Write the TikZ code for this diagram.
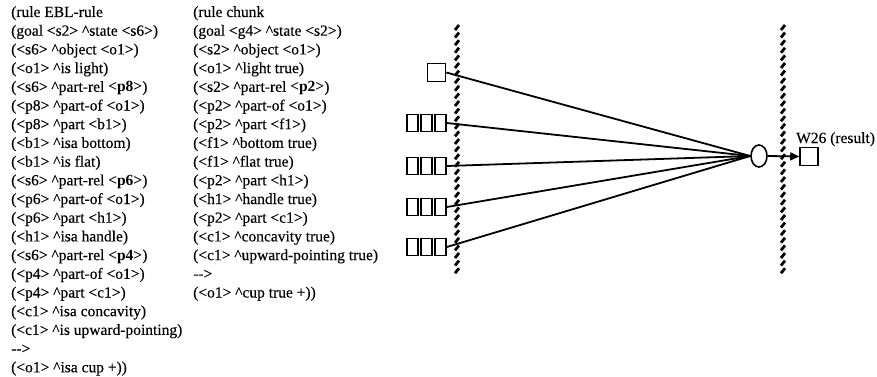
\documentclass[tikz,border=0pt]{standalone}
\usepackage{fontspec}
\setmainfont{Liberation Serif}[UprightFeatures={FakeBold=0.25}]
\usetikzlibrary{arrows.meta,shapes.geometric}
\newcommand\crt{\textasciicircum}
\begin{document}
\begin{tikzpicture}[x=1pt,y=-1pt,
  txt/.style={anchor=base west, inner sep=0pt, font=\fontsize{15.5}{18.7}\selectfont},
  cell/.style={draw, line width=1.6pt, minimum width=11pt, minimum height=17pt, inner sep=0pt},
  sq/.style={draw, line width=1.6pt, minimum size=18pt, inner sep=0pt},
  link/.style={line width=1.8pt},
  hatch/.style={line width=2.8pt}]
\useasboundingbox (0,0) rectangle (877,377);
% left column
\foreach \t [count=\i] in {
  {(rule EBL-rule},
  {(goal <s2> \crt state <s6>)},
  {(<s6> \crt object <o1>)},
  {(<o1> \crt is light)},
  {(<s6> \crt part-rel \textbf{<p8>})},
  {(<p8> \crt part-of <o1>)},
  {(<p8> \crt part <b1>)},
  {(<b1> \crt isa bottom)},
  {(<b1> \crt is flat)},
  {(<s6> \crt part-rel \textbf{<p6>})},
  {(<p6> \crt part-of <o1>)},
  {(<p6> \crt part <h1>)},
  {(<h1> \crt isa handle)},
  {(<s6> \crt part-rel \textbf{<p4>})},
  {(<p4> \crt part-of <o1>)},
  {(<p4> \crt part <c1>)},
  {(<c1> \crt isa concavity)},
  {(<c1> \crt is upward-pointing)},
  {-{}->},
  {(<o1> \crt isa cup +))}}
  \node[txt] (L\i) at (11,{17+18.7*(\i-1)}) {\t};
% right column
\foreach \t [count=\i] in {
  {(rule chunk},
  {(goal <g4> \crt state <s2>)},
  {(<s2> \crt object <o1>)},
  {(<o1> \crt light true)},
  {(<s2> \crt part-rel \textbf{<p2>})},
  {(<p2> \crt part-of <o1>)},
  {(<p2> \crt part <f1>)},
  {(<f1> \crt bottom true)},
  {(<f1> \crt flat true)},
  {(<p2> \crt part <h1>)},
  {(<h1> \crt handle true)},
  {(<p2> \crt part <c1>)},
  {(<c1> \crt concavity true)},
  {(<c1> \crt upward-pointing true)},
  {-{}->},
  {(<o1> \crt cup true +))}}
  \node[txt] (R\i) at (193,{17+18.7*(\i-1)}) {\t};
% hatched walls
\foreach \k in {0,...,32} {
  \draw[hatch] (455,{30+7.6*\k}) -- (459,{25+7.6*\k});
  \draw[hatch] (781,{30+7.6*\k}) -- (785,{25+7.6*\k});
}
% input boxes
\node[sq] (b1) at (436.5,72.5) {};
\foreach \r/\y in {2/123,3/166,4/207,5/247} {
  \node[cell] (r\r a) at (412.5,\y) {};
  \node[cell] (r\r b) at (426.5,\y) {};
  \node[cell] (r\r c) at (440.5,\y) {};
}
% unit and result
\node[draw, ellipse, line width=1.6pt, minimum width=16pt, minimum height=22pt, inner sep=0pt] (el) at (759,156) {};
\node[sq] (res) at (809,156.5) {};
\node[txt] (lab) at (796,143) {W26 (result)};
% connectors
\draw[link] (b1.east) -- (el.west);
\foreach \r in {2,3,4,5} \draw[link] (r\r c.east) -- (el.west);
\draw[link, -{Triangle[length=9pt,width=8pt]}] (el.east) -- (res.west);
\end{tikzpicture}
\end{document}
